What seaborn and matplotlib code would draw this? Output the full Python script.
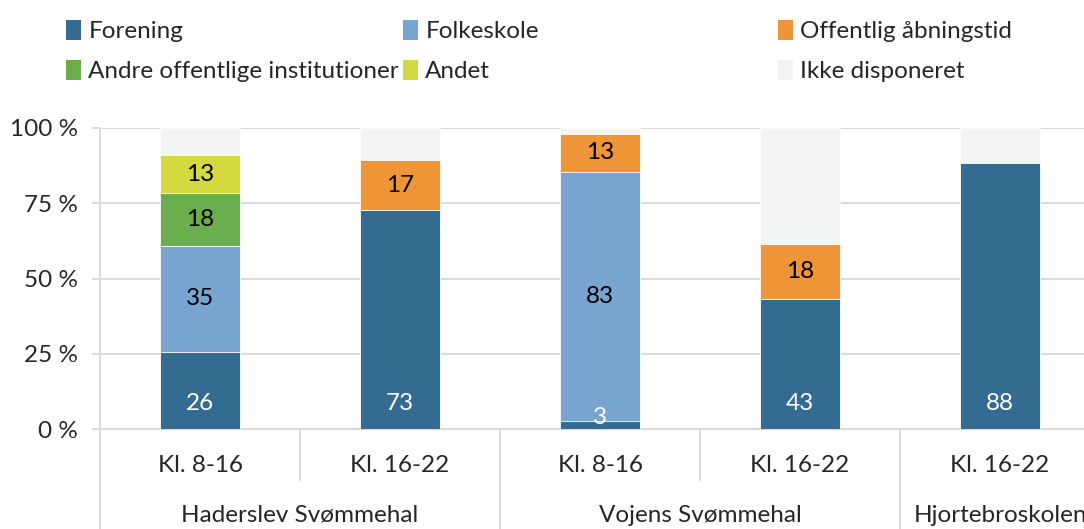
import numpy as np
import pandas as pd
import matplotlib.pyplot as plt
import seaborn as sns
from matplotlib.patches import Patch
import matplotlib.transforms as mtransforms

# Data
groups = ["Haderslev Svømmehal", "Vojens Svømmehal", "Hjortebroskolen"]
group_sizes = [2, 2, 1]
periods = ["Kl. 8-16", "Kl. 16-22", "Kl. 8-16", "Kl. 16-22", "Kl. 16-22"]
series = ["Forening", "Folkeskole", "Offentlig åbningstid",
          "Andre offentlige institutioner", "Andet", "Ikke disponeret"]
forening = [25.6, 72.6, 2.6, 43.2, 88.4]
folkeskole = [35.2, 0, 82.8, 0, 0]
offentlig = [0, 16.8, 12.6, 18.4, 0]
andre = [17.6, 0, 0, 0, 0]
andet = [12.6, 0, 0, 0, 0]
ikke = [9.0, 10.6, 2.0, 38.4, 11.6]

colors = ["#346B91", "#78A5CF", "#EE9537", "#6AAD4D", "#D3D93F", "#F2F3F3"]

values = [forening, folkeskole, offentlig, andre, andet, ikke]
keys = [f"{i}" for i in range(len(periods))]
df = pd.DataFrame({s: v for s, v in zip(series, values)}, index=keys)
cum = df.cumsum(axis=1)

sns.set_theme(style="white")
plt.rcParams["font.family"] = ["Lato", "DejaVu Sans"]

fig = plt.figure(figsize=(10.84, 5.29), dpi=100)
ax = fig.add_axes([100 / 1084, 1 - 429 / 529, 1 - 100 / 1084, 301 / 529])

# stacked bars: draw cumulative totals from top segment down
for s, c in reversed(list(zip(series, colors))):
    sns.barplot(x=keys, y=cum[s].values, order=keys, color=c, saturation=1,
                width=0.4, ax=ax, edgecolor="white", linewidth=0.6, zorder=3)

fs = 17.5
grid_c = "#D9D9D9"
# labels
for i, k in enumerate(keys):
    for j, s in enumerate(series[:-1]):
        v = df.loc[k, s]
        if v <= 0:
            continue
        if s == "Forening":
            off = 26 if v > 8 else 11
            ax.annotate(f"{v:.0f}", (i, 0), xytext=(0, off), textcoords="offset pixels",
                        ha="center", va="center", color="white", fontsize=fs, zorder=5)
        else:
            mid = cum.loc[k, s] - v / 2
            ax.text(i, mid, f"{v:.0f}", ha="center", va="center", color="black",
                    fontsize=fs, zorder=5)

ax.set_ylim(0, 100)
ax.set_xlim(-0.5, -0.5 + 984 / 200)
ax.set_yticks([0, 25, 50, 75, 100])
ax.set_yticklabels(["0 %", "25 %", "50 %", "75 %", "100 %"], fontsize=fs)
ax.tick_params(axis="y", left=True, length=6, width=1.4, color=grid_c, pad=10)
ax.set_xticks([])
ax.set_xlabel("")
ax.set_ylabel("")
ax.yaxis.grid(True, color=grid_c, lw=1.4, zorder=0)
ax.set_axisbelow(True)
for sp in ["top", "right"]:
    ax.spines[sp].set_visible(False)
for sp in ["left", "bottom"]:
    ax.spines[sp].set_color(grid_c)
    ax.spines[sp].set_linewidth(1.4)

# two-level category axis
tr = mtransforms.blended_transform_factory(ax.transData, ax.transAxes)
for i, p in enumerate(periods):
    ax.text(i, -0.12, p, transform=tr, ha="center", va="center", fontsize=fs)
start = 0
for g, n in zip(groups, group_sizes):
    center = start + (n - 1) / 2
    ax.text(center, -0.286, g, transform=tr, ha="center", va="center", fontsize=fs)
    ax.plot([start - 0.5, start - 0.5], [0, -0.34], transform=tr, color=grid_c,
            lw=1.4, clip_on=False)
    for m in range(1, n):
        ax.plot([start + m - 0.5] * 2, [0, -0.17], transform=tr, color=grid_c,
                lw=1.4, clip_on=False)
    start += n

# legend in three columns
handles = [Patch(facecolor=c, edgecolor="none") for c in colors]
cols = [(0, 3), (1, 4), (2, 5)]
xs = [66, 403, 778]
for (a, b), x in zip(cols, xs):
    fig.legend([handles[a], handles[b]], [series[a], series[b]], loc="upper left",
               bbox_to_anchor=(x / 1084, 1 - 20 / 529), frameon=False, fontsize=fs,
               handlelength=0.62, handleheight=0.9, handletextpad=0.3,
               labelspacing=0.72, borderpad=0, borderaxespad=0)

fig.savefig("out.png", dpi=100)
